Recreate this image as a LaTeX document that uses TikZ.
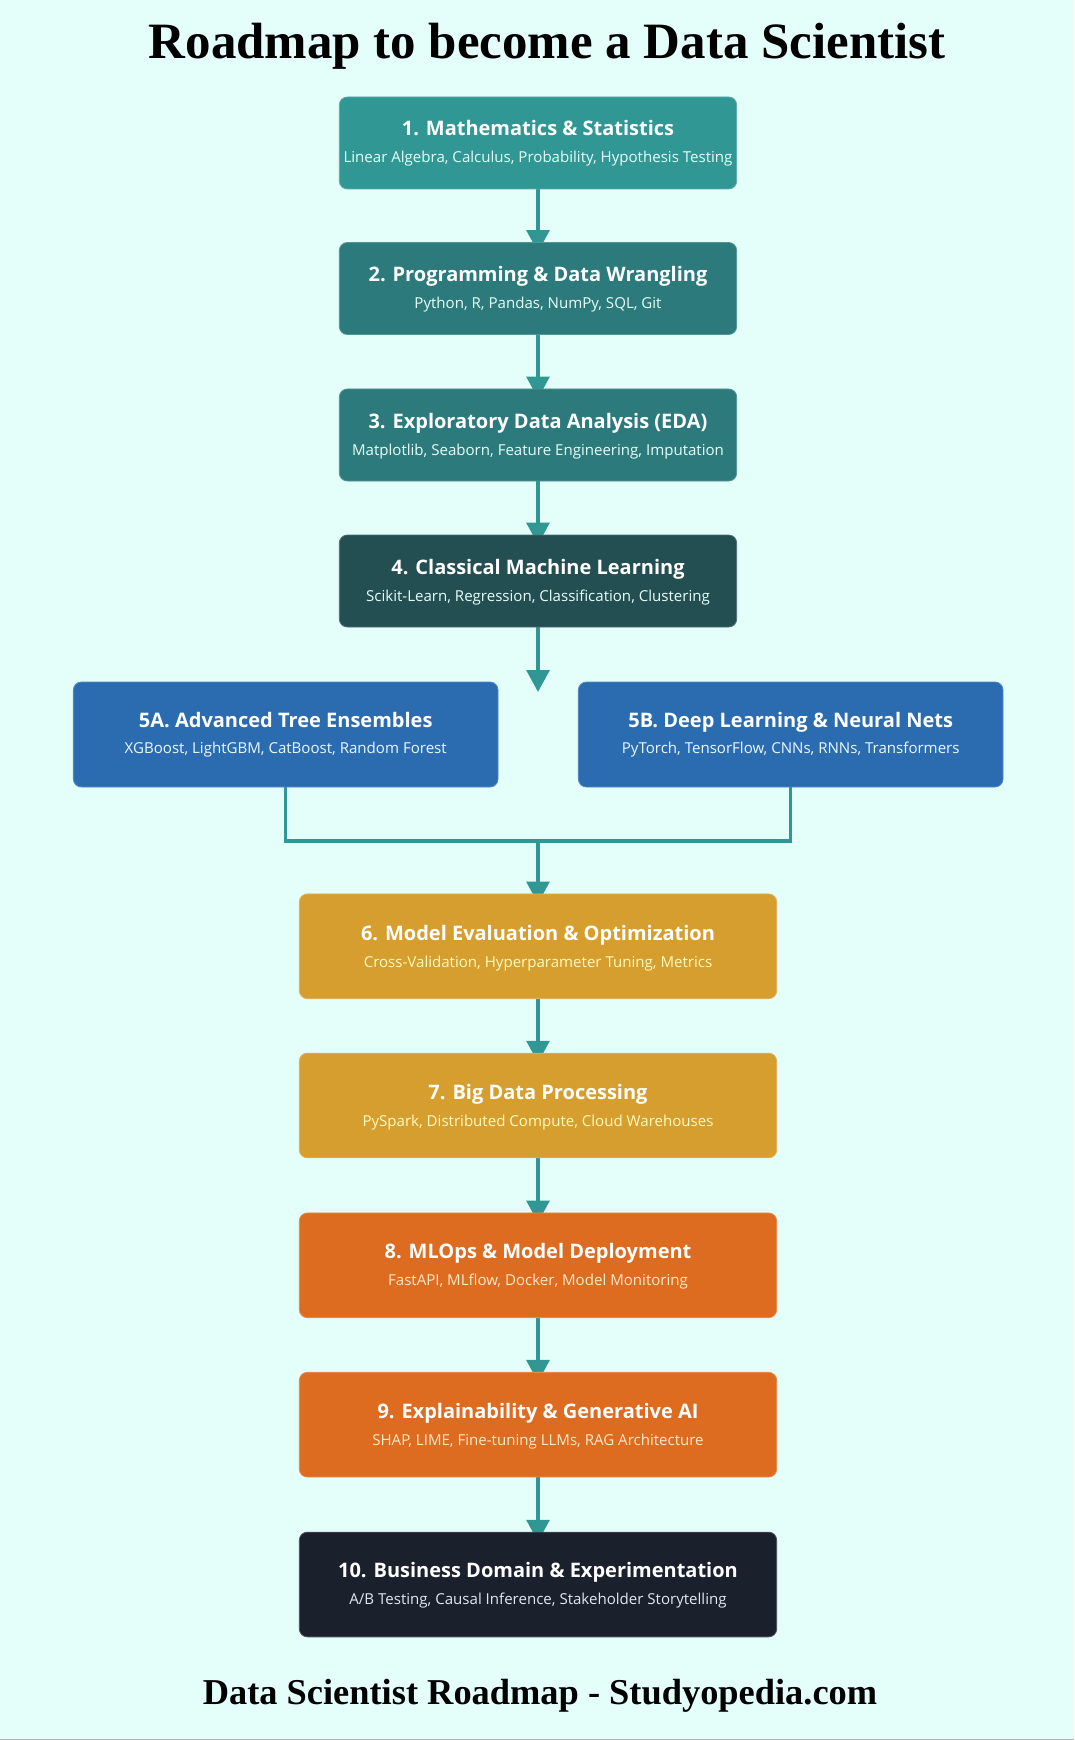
\documentclass[tikz,border=0pt]{standalone}
\usepackage{fontspec}
\setmainfont{Liberation Serif}
\newfontfamily\boxfont{Open Sans}
\usetikzlibrary{arrows.meta,backgrounds}

\definecolor{bgmint}{HTML}{E4FEFA}
\definecolor{tealA}{HTML}{319795}
\definecolor{tealB}{HTML}{2C7A7B}
\definecolor{tealC}{HTML}{234E52}
\definecolor{blueE}{HTML}{2B6CB0}
\definecolor{goldE}{HTML}{D69E2E}
\definecolor{orangeE}{HTML}{DD6B20}
\definecolor{darkE}{HTML}{1A202C}
\definecolor{subteal}{HTML}{E6FFFA}
\definecolor{subblue}{HTML}{EBF8FF}
\definecolor{subgold}{HTML}{FEFCBF}
\definecolor{suborange}{HTML}{FEEBC8}
\definecolor{subgray}{HTML}{E2E8F0}

\tikzset{
  stage/.style={rectangle, rounded corners=6pt, fill=#1, draw=#1!80!white,
    line width=0.6pt, inner sep=0pt},
  narrow/.style={minimum width=298pt, minimum height=69pt},
  wide/.style={minimum width=358pt, minimum height=78.5pt},
  branch/.style={minimum width=318.5pt, minimum height=78.75pt},
  head/.style={font=\boxfont\bfseries\fontsize{15}{18}\selectfont, text=white,
    anchor=base, inner sep=0pt},
  sub/.style={font=\boxfont\fontsize{11.3}{13.5}\selectfont, text=#1,
    anchor=base, inner sep=0pt},
  flow/.style={draw=tealA, line width=3pt, -{Triangle[width=17pt,length=16.5pt]}},
  merge/.style={draw=tealA, line width=2.5pt}
}

\begin{document}
\begin{tikzpicture}[x=0.75pt, y=-0.75pt]
  \useasboundingbox (0,0) rectangle (1074,1740);

  \node[font=\bfseries\fontsize{38.2}{44}\selectfont, anchor=base, inner sep=0pt]
    (title) at (547,59) {Roadmap to become a Data Scientist};

  % main track
  \node[stage=tealA, narrow] (b1) at (538,143) {};
  \node[head] (t1) at (538,136) {1. Mathematics \& Statistics};
  \node[sub=subteal] (s1) at (538,163) {Linear Algebra, Calculus, Probability, Hypothesis Testing};

  \node[stage=tealB, narrow] (b2) at (538,288.5) {};
  \node[head] (t2) at (538,281.5) {2. Programming \& Data Wrangling};
  \node[sub=subteal] (s2) at (538,308.5) {Python, R, Pandas, NumPy, SQL, Git};

  \node[stage=tealB, narrow] (b3) at (538,435) {};
  \node[head] (t3) at (538,428) {3. Exploratory Data Analysis (EDA)};
  \node[sub=subteal] (s3) at (538,455) {Matplotlib, Seaborn, Feature Engineering, Imputation};

  \node[stage=tealC, narrow] (b4) at (538,581) {};
  \node[head] (t4) at (538,574) {4. Classical Machine Learning};
  \node[sub=subteal] (s4) at (538,601) {Scikit-Learn, Regression, Classification, Clustering};

  % the two branches
  \node[stage=blueE, branch] (b5a) at (285.7,734.5) {};
  \node[head] (t5a) at (285.7,727.5) {5A. Advanced Tree Ensembles};
  \node[sub=subblue] (s5a) at (285.7,753.5) {XGBoost, LightGBM, CatBoost, Random Forest};

  \node[stage=blueE, branch] (b5b) at (790.7,734.5) {};
  \node[head] (t5b) at (790.7,727.5) {5B. Deep Learning \& Neural Nets};
  \node[sub=subblue] (s5b) at (790.7,753.5) {PyTorch, TensorFlow, CNNs, RNNs, Transformers};

  \node[stage=goldE, wide] (b6) at (538,946.3) {};
  \node[head] (t6) at (538,940) {6. Model Evaluation \& Optimization};
  \node[sub=subgold] (s6) at (538,967) {Cross-Validation, Hyperparameter Tuning, Metrics};

  \node[stage=goldE, wide] (b7) at (538,1105.5) {};
  \node[head] (t7) at (538,1099) {7. Big Data Processing};
  \node[sub=subgold] (s7) at (538,1126) {PySpark, Distributed Compute, Cloud Warehouses};

  \node[stage=orangeE, wide] (b8) at (538,1265.3) {};
  \node[head] (t8) at (538,1258.5) {8. MLOps \& Model Deployment};
  \node[sub=suborange] (s8) at (538,1285.5) {FastAPI, MLflow, Docker, Model Monitoring};

  \node[stage=orangeE, wide] (b9) at (538,1424.7) {};
  \node[head] (t9) at (538,1418) {9. Explainability \& Generative AI};
  \node[sub=suborange] (s9) at (538,1445) {SHAP, LIME, Fine-tuning LLMs, RAG Architecture};

  \node[stage=darkE, wide] (b10) at (538,1584.5) {};
  \node[head] (t10) at (538,1577.5) {10. Business Domain \& Experimentation};
  \node[sub=subgray] (s10) at (538,1604.5) {A/B Testing, Causal Inference, Stakeholder Storytelling};

  \node[font=\bfseries\fontsize{27.3}{32}\selectfont, anchor=base, inner sep=0pt]
    (foot) at (540,1704) {Data Scientist Roadmap - Studyopedia.com};

  \coordinate (split) at (538,692);
  \coordinate (join) at (538,841);

  \begin{pgfonlayer}{background}
    \fill[bgmint] (0,0) rectangle (1074,1740);
    \draw[gray!60, line width=0.8pt] (0,1739.4) -- (1074,1739.4);

    \draw[flow] (b1.south) -- ([yshift=-7.5pt]b2.north);
    \draw[flow] (b2.south) -- ([yshift=-7.5pt]b3.north);
    \draw[flow] (b3.south) -- ([yshift=-7.5pt]b4.north);
    \draw[flow] (b4.south) -- (split);
    \draw[merge] (b5a.south) |- (join) -| (b5b.south);
    \draw[flow] (join) -- ([yshift=-7.5pt]b6.north);
    \draw[flow] (b6.south) -- ([yshift=-7.5pt]b7.north);
    \draw[flow] (b7.south) -- ([yshift=-7.5pt]b8.north);
    \draw[flow] (b8.south) -- ([yshift=-7.5pt]b9.north);
    \draw[flow] (b9.south) -- ([yshift=-7.5pt]b10.north);
  \end{pgfonlayer}
\end{tikzpicture}
\end{document}
